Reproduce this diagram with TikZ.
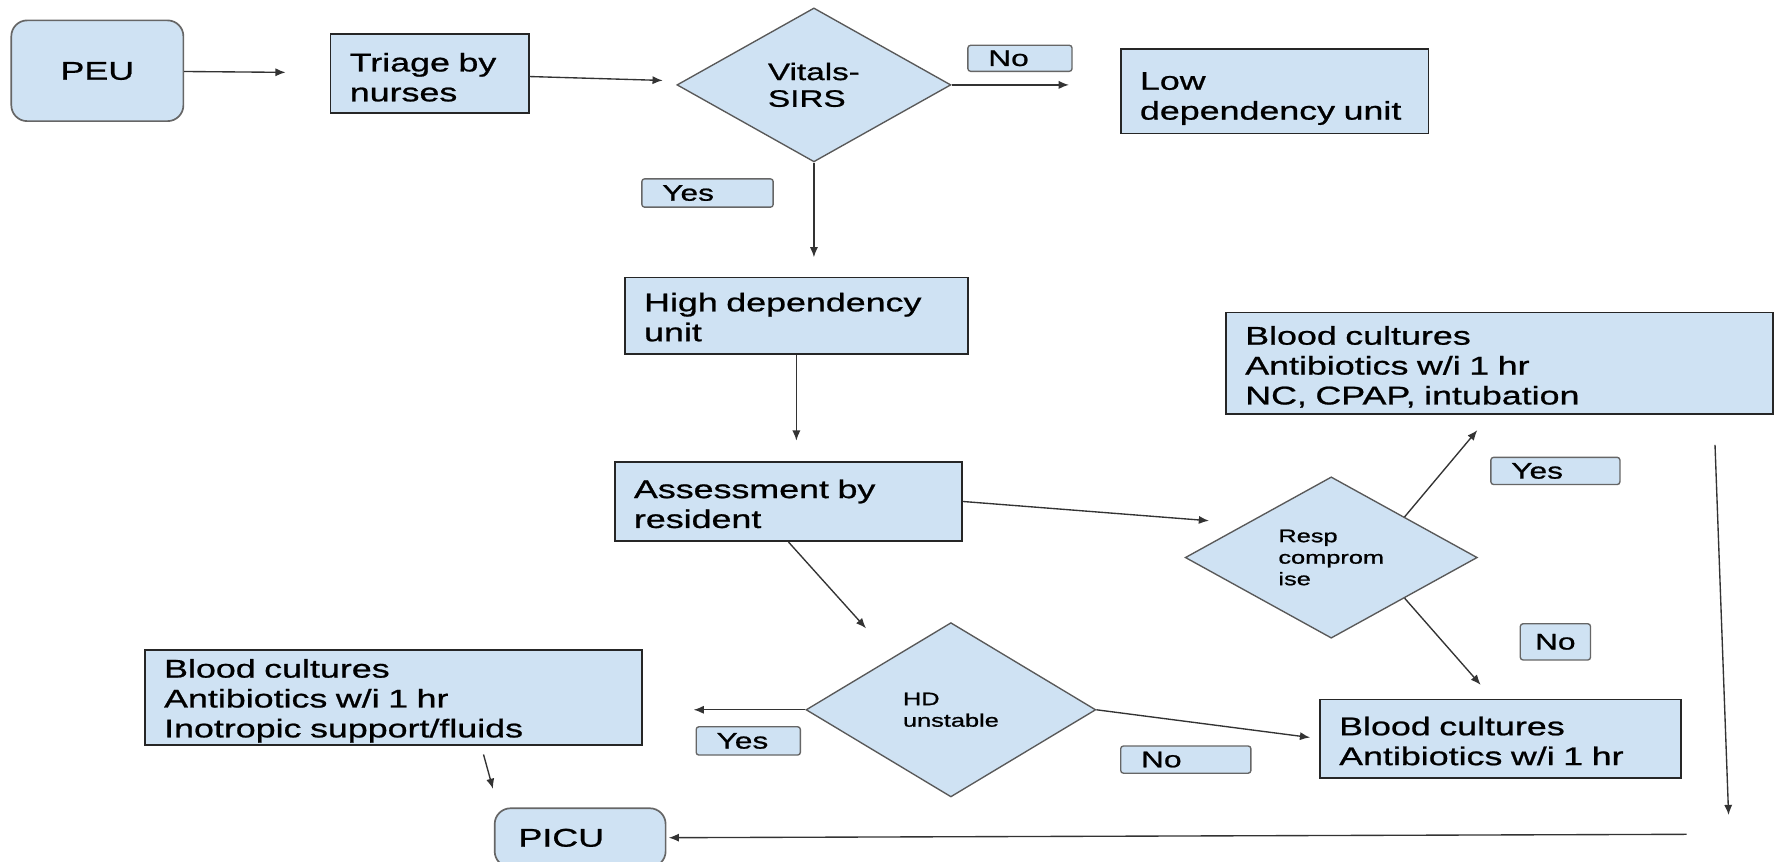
\documentclass[tikz,border=0pt]{standalone}
\usepackage{fontspec}
\setmainfont{Liberation Sans}[FakeStretch=1.4,FakeBold=0.9]
\usetikzlibrary{shapes.geometric,arrows.meta}
\definecolor{boxblue}{HTML}{CFE2F3}

\begin{document}
\begin{tikzpicture}[x=0.5pt,y=-0.5pt,
  unit/.style={draw=black!85,fill=boxblue,line width=0.75pt,inner xsep=8.5pt,inner ysep=0pt,align=left,font=\fontsize{11.3}{13.2}\selectfont,execute at begin node={\rule{0pt}{#1}}},
  unit/.default=10.8pt,
  term/.style={unit=8pt,draw=black!60,rounded corners=7pt},
  test/.style={diamond,draw=black!65,fill=boxblue,line width=0.6pt,inner sep=0pt,align=left},
  tag/.style={draw=black!60,fill=boxblue,line width=0.6pt,rounded corners=1.2pt,inner xsep=9pt,inner ysep=0pt,align=left,font=\fontsize{10}{12}\selectfont},
  flow/.style={draw=black!80,line width=0.6pt,-{Latex[length=4.5pt,width=3.6pt]}}]
\useasboundingbox (0,0) rectangle (1568,761);
\fill[white] (0,0) rectangle (1568,761);

\node[term,minimum width=76pt,minimum height=44.5pt,align=center] (peu) at (86,62.5) {PEU};
\node[unit=11.4pt,text width=70.5pt,minimum height=35pt] (triage) at (379.5,65) {Triage by\\nurses};
\node[test,minimum width=121pt,minimum height=68pt,font=\fontsize{10.5}{11.8}\selectfont] (vitals) at (719,75) {Vitals-\\SIRS};
\node[unit=14.3pt,text width=119pt,minimum height=37.5pt] (lowdep) at (1126,80.5) {Low\\dependency unit};
\node[tag,text width=28pt,minimum height=11.5pt] (no1) at (901,51.5) {No};
\node[tag,text width=40pt,minimum height=12.5pt] (yes1) at (625,170.5) {Yes};
\node[unit=9.3pt,text width=134.5pt,minimum height=34pt] (highdep) at (703.5,279) {High dependency\\unit};
\node[unit=10.3pt,text width=136.5pt,minimum height=35pt] (assess) at (696.5,443) {Assessment by\\resident};
\node[test,minimum width=129pt,minimum height=67.5pt,font=\fontsize{8}{9.5}\selectfont] (resp) at (1176,492.5) {Resp\\comprom\\ise};
\node[unit=11.3pt,text width=224.5pt,minimum height=45pt] (bcresp) at (1324.5,321) {Blood cultures\\Antibiotics w/i 1 hr\\NC, CPAP, intubation};
\node[tag,text width=39pt,minimum height=12pt] (yes2) at (1374,416) {Yes};
\node[tag,inner xsep=6.5pt,text width=18pt,minimum height=16pt] (no2) at (1374,567) {No};
\node[unit=10.3pt,text width=142.5pt,minimum height=34.5pt] (bcabx) at (1325.5,652.5) {Blood cultures\\Antibiotics w/i 1 hr};
\node[test,minimum width=128pt,minimum height=77pt,font=\fontsize{8}{9.5}\selectfont] (hd) at (840,627) {HD\\unstable};
\node[unit=11.3pt,text width=202.5pt,minimum height=42pt] (bcino) at (347.5,616) {Blood cultures\\Antibiotics w/i 1 hr\\Inotropic support/fluids};
\node[tag,text width=28pt,minimum height=12.5pt] (yes3) at (661,654.5) {Yes};
\node[tag,text width=39.5pt,minimum height=12pt] (no3) at (1047.5,671) {No};
\node[term,text width=54.5pt,inner xsep=10.5pt,minimum height=26pt] (picu) at (512.5,740) {PICU};

\coordinate (respin) at (1068,460);
\coordinate (respyes) at (1305,380);
\coordinate (respno) at (1308,605);
\coordinate (hdin) at (765,555);
\coordinate (looptop) at (1515,393);
\coordinate (loopbot) at (1527,720);
\coordinate (loopback) at (1490,737);

\draw[flow,shorten >=19.5pt] (peu) -- (triage);
\draw[flow,shorten >=9pt] (triage) -- (vitals);
\draw[flow,shorten >=22.5pt] (vitals.east) -- (vitals.east -| lowdep.west);
\draw[flow,shorten >=8.5pt] (vitals.south) -- (vitals.south |- highdep.north);
\draw[flow,shorten >=9pt] (highdep.south) -- (highdep.south |- assess.north);
\draw[flow] (assess.east) -- (respin);
\draw[flow] (resp.north east) -- (respyes);
\draw[flow] (resp.south east) -- (respno);
\draw[flow] (assess.south) -- (hdin);
\draw[flow,shorten >=22.5pt] (hd.west) -- (hd.west -| bcino.east);
\draw[flow,shorten >=4pt] (hd.east) -- (bcabx.west);
\draw[flow,shorten <=4pt,shorten >=8.5pt] ([xshift=38.75pt]bcino.south) -- ([xshift=-36.25pt]picu.north);
\draw[flow] (looptop) -- (loopbot);
\draw[flow,shorten >=1pt] (loopback) -- (picu.east);
\end{tikzpicture}
\end{document}
